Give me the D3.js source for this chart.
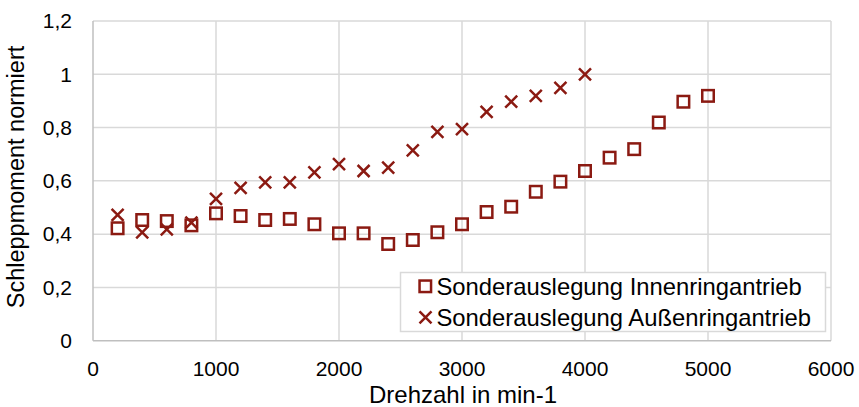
<!DOCTYPE html>
<html>
<head>
<meta charset="utf-8">
<script src="https://cdn.jsdelivr.net/npm/d3@7"></script>
<style>
  body { margin: 0; background: #fff; }
  text { font-family: "Liberation Sans", Arial, sans-serif; fill: #000; }
</style>
</head>
<body>
<svg width="859" height="407"></svg>
<script>
// data
let drehzahl = [200, 400, 600, 800, 1000, 1200, 1400, 1600, 1800, 2000, 2200, 2400, 2600, 2800, 3000, 3200, 3400, 3600, 3800, 4000, 4200, 4400, 4600, 4800, 5000];
let innen = [0.422, 0.453, 0.449, 0.433, 0.478, 0.468, 0.453, 0.457, 0.437, 0.403, 0.403, 0.363, 0.378, 0.407, 0.437, 0.483, 0.503, 0.559, 0.597, 0.637, 0.687, 0.719, 0.819, 0.897, 0.919];
let aussenX = [200, 400, 600, 800, 1000, 1200, 1400, 1600, 1800, 2000, 2200, 2400, 2600, 2800, 3000, 3200, 3400, 3600, 3800, 4000];
let aussen = [0.472, 0.407, 0.418, 0.443, 0.532, 0.574, 0.594, 0.594, 0.632, 0.663, 0.637, 0.650, 0.714, 0.784, 0.794, 0.859, 0.897, 0.919, 0.949, 1.0];
let xTicks = [0, 1000, 2000, 3000, 4000, 5000, 6000];
let yTicks = [0, 0.2, 0.4, 0.6, 0.8, 1.0, 1.2];
let seriesNames = ["Sonderauslegung Innenringantrieb", "Sonderauslegung Außenringantrieb"];

let svg = d3.select("svg");
let col = "#8b1a12";
let pLeft = 93, pRight = 831, pTop = 21, pBottom = 340.7;

let x = d3.scaleLinear().domain([0, 6000]).range([pLeft, pRight]);
let y = d3.scaleLinear().domain([0, 1.2]).range([pBottom, pTop]);

// gridlines
svg.append("g").selectAll("line").data(yTicks.slice(1)).join("line")
  .attr("x1", pLeft).attr("x2", pRight)
  .attr("y1", d => y(d)).attr("y2", d => y(d))
  .attr("stroke", "#d9d9d9").attr("stroke-width", 1.5);
svg.append("g").selectAll("line").data(xTicks.slice(1)).join("line")
  .attr("y1", pTop).attr("y2", pBottom)
  .attr("x1", d => x(d)).attr("x2", d => x(d))
  .attr("stroke", "#d9d9d9").attr("stroke-width", 1.5);

// axes lines
svg.append("line").attr("x1", pLeft).attr("x2", pLeft).attr("y1", pTop).attr("y2", pBottom)
  .attr("stroke", "#bfbfbf").attr("stroke-width", 1.5);
svg.append("line").attr("x1", pLeft).attr("x2", pRight).attr("y1", pBottom).attr("y2", pBottom)
  .attr("stroke", "#bfbfbf").attr("stroke-width", 1.5);

// tick labels
let fmt = d => d3.format(".1f")(d).replace(/\.0$/, "").replace(".", ",");
svg.append("g").selectAll("text").data(yTicks).join("text")
  .attr("x", 72).attr("y", d => y(d)).attr("dy", "0.35em")
  .attr("text-anchor", "end").attr("font-size", 21)
  .text(fmt);
svg.append("g").selectAll("text").data(xTicks).join("text")
  .attr("x", d => x(d)).attr("y", 375.5)
  .attr("text-anchor", "middle").attr("font-size", 21)
  .text(d => d);

// axis titles
svg.append("text").attr("x", 463).attr("y", 403).attr("text-anchor", "middle")
  .attr("font-size", 24).text("Drehzahl in min-1");
svg.append("text").attr("transform", "translate(24,177) rotate(-90)")
  .attr("text-anchor", "middle").attr("font-size", 23.5).text("Schleppmoment normiert");

// markers
let sq = 11.5, cr = 6;
svg.append("g").selectAll("rect").data(drehzahl.map((d, i) => [d, innen[i]])).join("rect")
  .attr("x", d => x(d[0]) - sq / 2).attr("y", d => y(d[1]) - sq / 2)
  .attr("width", sq).attr("height", sq)
  .attr("fill", "none").attr("stroke", col).attr("stroke-width", 2.5);

let crossPath = (cx, cy) =>
  "M" + (cx - cr) + "," + (cy - cr) + "L" + (cx + cr) + "," + (cy + cr) +
  "M" + (cx - cr) + "," + (cy + cr) + "L" + (cx + cr) + "," + (cy - cr);
svg.append("g").selectAll("path").data(aussenX.map((d, i) => [d, aussen[i]])).join("path")
  .attr("d", d => crossPath(x(d[0]), y(d[1])))
  .attr("fill", "none").attr("stroke", col).attr("stroke-width", 2.5);

// legend
let lg = svg.append("g");
lg.append("rect").attr("x", 400.5).attr("y", 272.5).attr("width", 425).attr("height", 59)
  .attr("fill", "#fff").attr("stroke", "#d9d9d9").attr("stroke-width", 1.5);
lg.append("rect").attr("x", 425.3 - 5.75).attr("y", 286.3 - 5.75).attr("width", 11.5).attr("height", 11.5)
  .attr("fill", "none").attr("stroke", col).attr("stroke-width", 2.5);
lg.append("path").attr("d", crossPath(425.5, 317.3))
  .attr("fill", "none").attr("stroke", col).attr("stroke-width", 2.5);
lg.selectAll("text.lab").data(seriesNames).join("text")
  .attr("x", 436.5).attr("y", (d, i) => 286.3 + i * 31).attr("dy", "0.35em")
  .attr("font-size", 23.8).text(d => d);
</script>
</body>
</html>
